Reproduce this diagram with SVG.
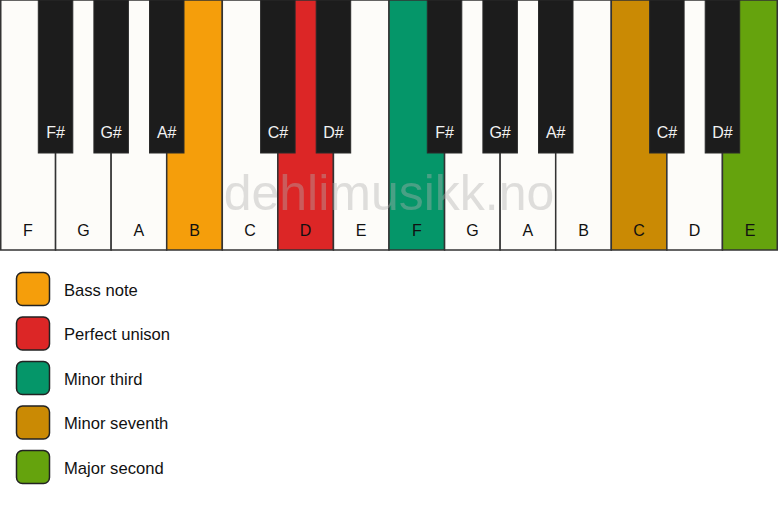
<svg xmlns="http://www.w3.org/2000/svg" width="778" height="506" viewBox="0 0 778 506">
<style>
.w{fill:#fdfcf9;stroke:#333;stroke-width:1.5}
.b{fill:#1c1c1c;stroke:#2a2a2a;stroke-width:1}
.wl{font-family:"Liberation Sans",Arial,sans-serif;font-size:16px;fill:#111;text-anchor:middle}
.bl{font-family:"Liberation Sans",Arial,sans-serif;font-size:16px;fill:#f2f2f2;text-anchor:middle}
.lg{stroke:#222;stroke-width:1.5}
.lt{font-family:"Liberation Sans",Arial,sans-serif;font-size:16.6px;fill:#111}
.wm{font-family:"Liberation Sans",Arial,sans-serif;font-size:50px;fill:#b0b0b0;fill-opacity:0.4;text-anchor:middle}
</style>
<rect width="778" height="506" fill="#ffffff"/>
<g id="white-keys">
<g id="key-F1"><rect class="w" x="0.75" y="0" width="54.82" height="250"/><text class="wl" x="27.8" y="236">F</text></g>
<g id="key-G1"><rect class="w" x="55.57" y="0" width="55.57" height="250"/><text class="wl" x="83.4" y="236">G</text></g>
<g id="key-A1"><rect class="w" x="111.14" y="0" width="55.57" height="250"/><text class="wl" x="138.9" y="236">A</text></g>
<g id="key-B1"><rect class="w" x="166.71" y="0" width="55.57" height="250" style="fill:#f59e0b"/><text class="wl" x="194.5" y="236">B</text></g>
<g id="key-C1"><rect class="w" x="222.29" y="0" width="55.57" height="250"/><text class="wl" x="250.1" y="236">C</text></g>
<g id="key-D1"><rect class="w" x="277.86" y="0" width="55.57" height="250" style="fill:#dc2626"/><text class="wl" x="305.6" y="236">D</text></g>
<g id="key-E1"><rect class="w" x="333.43" y="0" width="55.57" height="250"/><text class="wl" x="361.2" y="236">E</text></g>
<g id="key-F2"><rect class="w" x="389" y="0" width="55.57" height="250" style="fill:#059669"/><text class="wl" x="416.8" y="236">F</text></g>
<g id="key-G2"><rect class="w" x="444.57" y="0" width="55.57" height="250"/><text class="wl" x="472.4" y="236">G</text></g>
<g id="key-A2"><rect class="w" x="500.14" y="0" width="55.57" height="250"/><text class="wl" x="527.9" y="236">A</text></g>
<g id="key-B2"><rect class="w" x="555.71" y="0" width="55.57" height="250"/><text class="wl" x="583.5" y="236">B</text></g>
<g id="key-C2"><rect class="w" x="611.29" y="0" width="55.57" height="250" style="fill:#ca8a04"/><text class="wl" x="639.1" y="236">C</text></g>
<g id="key-D2"><rect class="w" x="666.86" y="0" width="55.57" height="250"/><text class="wl" x="694.6" y="236">D</text></g>
<g id="key-E2"><rect class="w" x="722.43" y="0" width="54.82" height="250" style="fill:#65a30d"/><text class="wl" x="750.2" y="236">E</text></g>
</g>
<text class="wm" x="389" y="210">dehlimusikk.no</text>
<g id="black-keys">
<g id="key-Fs1"><rect class="b" x="38.3" y="0" width="34.5" height="153"/><text class="bl" x="55.6" y="138">F#</text></g>
<g id="key-Gs1"><rect class="b" x="93.9" y="0" width="34.5" height="153"/><text class="bl" x="111.1" y="138">G#</text></g>
<g id="key-As1"><rect class="b" x="149.5" y="0" width="34.5" height="153"/><text class="bl" x="166.7" y="138">A#</text></g>
<g id="key-Cs1"><rect class="b" x="260.6" y="0" width="34.5" height="153"/><text class="bl" x="277.9" y="138">C#</text></g>
<g id="key-Ds1"><rect class="b" x="316.2" y="0" width="34.5" height="153"/><text class="bl" x="333.4" y="138">D#</text></g>
<g id="key-Fs2"><rect class="b" x="427.3" y="0" width="34.5" height="153"/><text class="bl" x="444.6" y="138">F#</text></g>
<g id="key-Gs2"><rect class="b" x="482.9" y="0" width="34.5" height="153"/><text class="bl" x="500.1" y="138">G#</text></g>
<g id="key-As2"><rect class="b" x="538.5" y="0" width="34.5" height="153"/><text class="bl" x="555.7" y="138">A#</text></g>
<g id="key-Cs2"><rect class="b" x="649.6" y="0" width="34.5" height="153"/><text class="bl" x="666.9" y="138">C#</text></g>
<g id="key-Ds2"><rect class="b" x="705.2" y="0" width="34.5" height="153"/><text class="bl" x="722.4" y="138">D#</text></g>
</g>
<g id="legend">
<g id="legend-bass"><rect class="lg" x="16.5" y="272.5" width="33" height="33" rx="6" fill="#f59e0b"/><text class="lt" x="64" y="295.5">Bass note</text></g>
<g id="legend-unison"><rect class="lg" x="16.5" y="317" width="33" height="33" rx="6" fill="#dc2626"/><text class="lt" x="64" y="340">Perfect unison</text></g>
<g id="legend-minor-third"><rect class="lg" x="16.5" y="361.5" width="33" height="33" rx="6" fill="#059669"/><text class="lt" x="64" y="384.5">Minor third</text></g>
<g id="legend-minor-seventh"><rect class="lg" x="16.5" y="406" width="33" height="33" rx="6" fill="#ca8a04"/><text class="lt" x="64" y="429">Minor seventh</text></g>
<g id="legend-major-second"><rect class="lg" x="16.5" y="450.5" width="33" height="33" rx="6" fill="#65a30d"/><text class="lt" x="64" y="473.5">Major second</text></g>
</g>
</svg>
